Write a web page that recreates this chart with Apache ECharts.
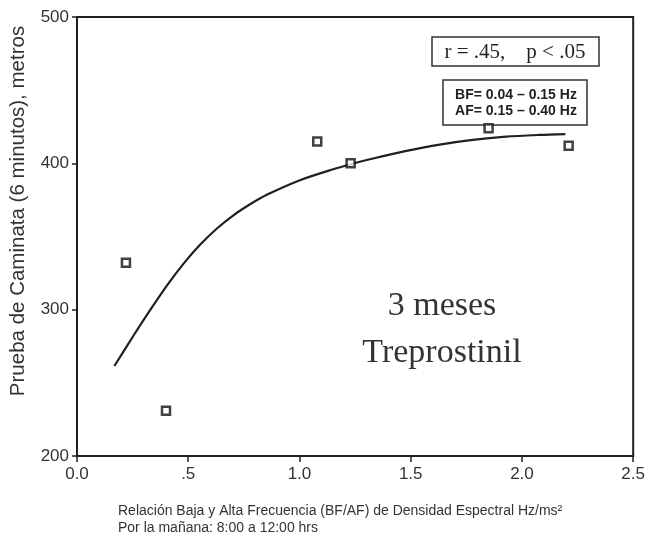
<!DOCTYPE html>
<html>
<head>
<meta charset="utf-8">
<script src="https://cdn.jsdelivr.net/npm/echarts@6/dist/echarts.min.js"></script>
<style>
  html, body { margin: 0; padding: 0; background: #fff; }
  #chart { width: 648px; height: 539px; }
</style>
</head>
<body>
<div id="chart"></div>
<script>
// measured points (BF/AF ratio, walk distance in m)
const pointX = [0.22, 0.40, 1.08, 1.23, 1.85, 2.21];
const pointY = [332, 231, 415, 400, 424, 412];

// fitted curve
const curveX = [0.168, 0.255, 0.330, 0.404, 0.479, 0.554, 0.629, 0.703, 0.778, 0.853, 1.002, 1.152, 1.234, 1.331, 1.481, 1.630, 1.779, 1.929, 2.078, 2.195];
const curveY = [261.5, 282.5, 300, 316.5, 331.5, 344.5, 355.5, 364.5, 372, 378.5, 388.5, 396, 399.5, 403.3, 408.5, 412.8, 416, 418.2, 419.4, 420];

const xTicks = [0, 0.5, 1, 1.5, 2, 2.5];
const xTickLabels = ["0.0", ".5", "1.0", "1.5", "2.0", "2.5"];

const sans = "'Liberation Sans', Arial, sans-serif";
const serif = "'Liberation Serif', 'Times New Roman', serif";
const ink = "#231f20";

const chart = echarts.init(document.getElementById("chart"));

chart.setOption({
  animation: false,
  grid: {
    left: 77, right: 14, top: 17, bottom: 83,
    show: true, borderColor: ink, borderWidth: 2, backgroundColor: "transparent"
  },
  xAxis: {
    type: "value", min: 0, max: 2.5, interval: 0.5,
    axisLine: { lineStyle: { color: ink, width: 2 } },
    axisTick: { show: true, length: 6, lineStyle: { color: ink, width: 1.5 } },
    axisLabel: {
      color: "#333", fontFamily: sans, fontSize: 17, margin: 10,
      formatter: (v) => xTickLabels[xTicks.indexOf(Math.round(v * 10) / 10)] ?? ""
    },
    splitLine: { show: false }
  },
  yAxis: {
    type: "value", min: 200, max: 500, interval: 100,
    axisLine: { show: true, lineStyle: { color: ink, width: 2 } },
    axisTick: { show: true, length: 5, lineStyle: { color: ink, width: 1.5 } },
    axisLabel: { color: "#333", fontFamily: sans, fontSize: 17, margin: 8 },
    splitLine: { show: false }
  },
  series: [
    {
      type: "line",
      data: curveX.map((x, i) => [x, curveY[i]]),
      smooth: 0.3,
      showSymbol: false,
      lineStyle: { color: ink, width: 2.2 },
      z: 2
    },
    {
      type: "scatter",
      data: pointX.map((x, i) => [x, pointY[i]]),
      symbol: "rect",
      symbolSize: 8,
      itemStyle: { color: "#fff", borderColor: "#111", borderWidth: 2.5 },
      z: 3
    }
  ],
  graphic: [
    {
      type: "text", x: 18, y: 211, rotation: Math.PI / 2,
      style: {
        text: "Prueba de Caminata (6 minutos), metros",
        fontFamily: sans, fontSize: 20.5, fill: "#333",
        textAlign: "center", textVerticalAlign: "middle"
      }
    },
    {
      type: "text", left: 118, top: 503,
      style: {
        text: "Relación Baja y Alta Frecuencia (BF/AF) de Densidad Espectral Hz/ms²\nPor la mañana: 8:00 a 12:00 hrs",
        fontFamily: sans, fontSize: 14, lineHeight: 17, fill: "#333"
      }
    },
    {
      type: "rect", shape: { x: 432, y: 37, width: 167, height: 29 },
      style: { fill: "#fff", stroke: "#333", lineWidth: 1.5 }
    },
    {
      type: "text", x: 515, y: 52,
      style: {
        text: "r = .45,    p < .05",
        fontFamily: serif, fontSize: 21, fill: ink,
        textAlign: "center", textVerticalAlign: "middle"
      }
    },
    {
      type: "rect", shape: { x: 443, y: 80, width: 144, height: 45 },
      style: { fill: "#fff", stroke: "#333", lineWidth: 1.5 }
    },
    {
      type: "text", x: 516, y: 103,
      style: {
        text: "BF= 0.04 – 0.15 Hz\nAF= 0.15 – 0.40 Hz",
        fontFamily: sans, fontSize: 14, fontWeight: "bold", lineHeight: 16, fill: ink,
        textAlign: "center", textVerticalAlign: "middle"
      }
    },
    {
      type: "text", x: 442, y: 330,
      style: {
        text: "3 meses\nTreprostinil",
        fontFamily: serif, fontSize: 34, lineHeight: 47, fill: "#333",
        textAlign: "center", textVerticalAlign: "middle"
      }
    }
  ]
});
</script>
</body>
</html>
